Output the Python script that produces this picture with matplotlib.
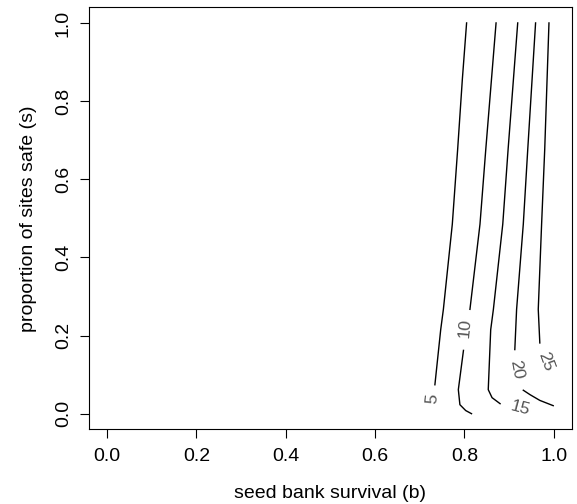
import numpy as np
import matplotlib
matplotlib.use("Agg")
import matplotlib.pyplot as plt

plt.rcParams['font.family'] = ['Liberation Sans', 'DejaVu Sans']

# contour lines: seed bank survival (b) vs proportion safe (s)
# nan marks the gap left for the contour label
b_5 = [0.805, 0.7955, 0.785, 0.773, 0.753, 0.747, 0.734]
s_5 = [1.0, 0.856, 0.677, 0.485, 0.267, 0.215, 0.074]

b_10 = [0.871, 0.848, 0.835, 0.8125, np.nan, 0.798, 0.7865, 0.790, 0.803, 0.816]
s_10 = [1.0, 0.677, 0.485, 0.267, np.nan, 0.162, 0.0615, 0.023, 0.008, 0.0]

b_15 = [0.9195, 0.898, 0.886, 0.865, 0.859, 0.8535, 0.862, 0.880]
s_15 = [1.0, 0.677, 0.485, 0.267, 0.215, 0.0615, 0.041, 0.0256]

b_20 = [0.9595, 0.942, 0.932, 0.917, 0.913, np.nan, 0.932, 0.947, 0.969, 0.999]
s_20 = [1.0, 0.677, 0.485, 0.267, 0.164, np.nan, 0.06, 0.0487, 0.034, 0.0205]

b_25 = [0.9895, 0.980, 0.973, 0.9655, 0.969]
s_25 = [1.0, 0.677, 0.485, 0.267, 0.181]

levels = [5, 10, 15, 20, 25]
lines_b = [b_5, b_10, b_15, b_20, b_25]
lines_s = [s_5, s_10, s_15, s_20, s_25]

# where each level's label sits
label_b = [0.7275, 0.8025, 0.9245, 0.917, 0.983]
label_s = [0.0385, 0.2205, 0.014, 0.113, 0.133]
label_rot = [84, 85, -15, -79, -70]

ticks = [0.0, 0.2, 0.4, 0.6, 0.8, 1.0]

fig = plt.figure(figsize=(5.77, 5.04), dpi=100)
ax = fig.add_axes([0.1548, 0.1482, 0.8357, 0.8373])

for bb, ss in zip(lines_b, lines_s):
    ax.plot(bb, ss, color='black', lw=1.0)

for lev, bx, sy, rot in zip(levels, label_b, label_s, label_rot):
    ax.text(bx, sy, str(lev), rotation=rot, rotation_mode='anchor',
            ha='center', va='center', fontsize=12.5, color='#555555')

ax.set_xlim(-0.04, 1.04)
ax.set_ylim(-0.04, 1.04)
ax.set_xticks(ticks)
ax.set_yticks(ticks)
ax.set_xticklabels(['%.1f' % t for t in ticks])
ax.set_yticklabels(['%.1f' % t for t in ticks], rotation=90, va='center')
ax.tick_params(direction='out', length=6.5, width=0.8, labelsize=14)
ax.tick_params(axis='x', pad=7)
ax.tick_params(axis='y', pad=6)
for sp in ax.spines.values():
    sp.set_linewidth(0.8)

ax.set_xlabel('seed bank survival (b)', fontsize=14, labelpad=14)
ax.set_ylabel('proportion of sites safe (s)', fontsize=14, labelpad=13)

fig.savefig('out.png', dpi=100)
